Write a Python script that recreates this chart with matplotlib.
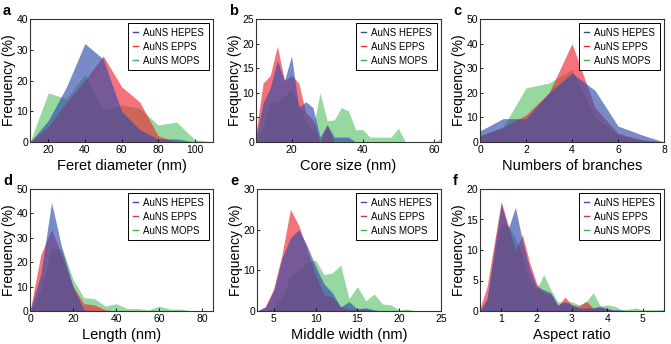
import matplotlib.pyplot as plt
from matplotlib.lines import Line2D

plt.rcParams["font.family"] = ["Liberation Sans", "DejaVu Sans"]

SERIES = ["AuNS HEPES", "AuNS EPPS", "AuNS MOPS"]

# a: Feret diameter
feret_x = [10, 20, 30, 40, 50, 60, 70, 80, 90, 100, 110]
feret_hepes = [0, 7, 18, 32, 27, 10, 4, 1, 1, 0, 0]
feret_epps = [0, 5, 13, 20, 28, 18, 13, 2, 0, 0, 0]
feret_mops = [0, 16, 14, 22, 10.5, 12, 11, 5.5, 6.5, 0.8, 0]

# b: core size
core_x = list(range(10, 64, 2))
core_hepes = [1, 8, 11, 16.5, 12.5, 17.5, 7, 8.2, 7, 1, 3.5, 1, 1, 1, 0,
              0, 0, 0, 0, 0, 0, 0, 0, 0, 0, 0, 0]
core_epps = [2, 12, 13.5, 19.5, 12.5, 13.5, 12, 6, 4.5, 0, 3.5, 0, 0, 0, 0,
             0, 0, 0, 0, 0, 0, 0, 0, 0, 0, 0, 0]
core_mops = [0, 3, 8, 8, 9.5, 10.5, 8, 4, 2.5, 10, 4.3, 4.5, 7, 6.3, 2.5,
             2.5, 1, 1, 1, 1, 2.8, 0, 0, 0, 0, 0, 0.7]

# c: numbers of branches
branch_x = [0, 1, 2, 3, 4, 5, 6, 7, 8]
branch_hepes = [4.5, 9.5, 9.5, 20, 28, 21, 6.5, 3, 0]
branch_epps = [2.5, 6, 11, 20, 40, 14, 3.5, 1, 0]
branch_mops = [2.5, 6, 22, 24, 29.5, 10, 3, 0.5, 0]

# d: length
length_x = list(range(0, 90, 5))
length_hepes = [0, 15, 44.5, 25, 10, 0.5, 0, 0, 0, 0, 0, 0, 0, 0, 0, 0, 0, 0]
length_epps = [0, 23, 33.5, 22, 10, 3, 2.5, 0.5, 0, 0, 0, 0, 0, 0, 0, 0, 0, 0]
length_mops = [0, 8, 25.5, 25.5, 13, 5.5, 5, 2, 3, 1, 1, 0.5, 2, 0.8, 0.8, 0, 0, 0]

# e: middle width
width_x = list(range(3, 26))
width_hepes = [0, 1, 5, 13, 18, 20, 16, 11, 6.7, 4.5, 1, 2.3, 0.5, 0.8, 0.3, 0,
               0, 0, 0, 0, 0, 0, 0]
width_epps = [0, 1, 5.5, 14, 25, 21, 15, 9, 4, 3.5, 1, 0.5, 0.5, 0.5, 0, 0,
              0, 0, 0, 0, 0, 0, 0]
width_mops = [0, 0, 1, 3.5, 8.5, 10, 12, 12.5, 9, 9.3, 11.3, 3, 6, 2.5, 4.2, 1.7,
              1.5, 0.3, 0.5, 0, 0, 0, 0]

# f: aspect ratio
aspect_x = [round(0.4 + 0.2 * i, 1) for i in range(27)]
aspect_hepes = [0, 2, 10, 17.5, 13.5, 17, 11.5, 7, 4, 3.5, 3, 1, 1.5, 1, 0.5,
                0.5, 0.5, 0.8, 0.3, 0.2, 0.2, 0, 0, 0, 0, 0, 0]
aspect_epps = [0.5, 4, 11, 18, 14, 10, 12.5, 8, 4.5, 3, 2.8, 0.8, 2.3, 1, 0.8,
               1.6, 0.5, 0.5, 0.5, 0, 0, 0, 0, 0, 0, 0, 0]
aspect_mops = [0, 2, 9, 14.5, 14, 12, 9, 5, 3.5, 6, 3.5, 1.5, 1.5, 1.5, 1,
               1.5, 3, 0.8, 1, 0.8, 0.2, 0.3, 0.5, 0.2, 0.2, 0.2, 0.3]

FILL = {"hepes": ("#324bab", 0.65), "epps": ("#eb2832", 0.65), "mops": ("#50be5f", 0.6)}
LINE = {"hepes": "#2f4fa8", "epps": "#e8323c", "mops": "#40b050"}

panels = [
    ("a", feret_x, feret_hepes, feret_epps, feret_mops, "Feret diameter (nm)",
     (10, 110), [20, 40, 60, 80, 100], (0, 40), [0, 10, 20, 30, 40]),
    ("b", core_x, core_hepes, core_epps, core_mops, "Core size (nm)",
     (10, 62), [20, 40, 60], (0, 25), [0, 5, 10, 15, 20, 25]),
    ("c", branch_x, branch_hepes, branch_epps, branch_mops, "Numbers of branches",
     (0, 8), [0, 2, 4, 6, 8], (0, 50), [0, 10, 20, 30, 40, 50]),
    ("d", length_x, length_hepes, length_epps, length_mops, "Length (nm)",
     (0, 85), [0, 20, 40, 60, 80], (0, 50), [0, 10, 20, 30, 40, 50]),
    ("e", width_x, width_hepes, width_epps, width_mops, "Middle width (nm)",
     (3, 25), [5, 10, 15, 20, 25], (0, 30), [0, 10, 20, 30]),
    ("f", aspect_x, aspect_hepes, aspect_epps, aspect_mops, "Aspect ratio",
     (0.4, 5.6), [1, 2, 3, 4, 5], (0, 20), [0, 5, 10, 15, 20]),
]

W, H = 671, 344
rects = [
    (30, 19, 183, 123), (256, 19, 185, 123), (480, 19, 184, 123),
    (30, 189, 183, 122), (257, 189, 184, 122), (480, 189, 184, 122),
]

fig = plt.figure(figsize=(W / 100, H / 100), dpi=100)

for (label, x, hep, epp, mop, xlabel, xlim, xticks, ylim, yticks), (px, py, pw, ph) in zip(panels, rects):
    ax = fig.add_axes([px / W, 1 - (py + ph) / H, pw / W, ph / H])
    ax.fill_between(x, 0, mop, color=FILL["mops"][0], alpha=FILL["mops"][1], lw=0)
    ax.fill_between(x, 0, epp, color=FILL["epps"][0], alpha=FILL["epps"][1], lw=0)
    ax.fill_between(x, 0, hep, color=FILL["hepes"][0], alpha=FILL["hepes"][1], lw=0)
    ax.set_xlim(*xlim)
    ax.set_ylim(*ylim)
    ax.set_xticks(xticks)
    ax.set_yticks(yticks)
    ax.tick_params(direction="in", length=2, width=0.6, labelsize=7.5, pad=2)
    ax.tick_params(axis="y", pad=1.5)
    for sp in ax.spines.values():
        sp.set_linewidth(0.8)
        sp.set_color("#333333")
    ax.set_xlabel(xlabel, fontsize=10.5, labelpad=3)
    ax.set_ylabel("Frequency (%)", fontsize=10, labelpad=0)
    handles = [Line2D([], [], color=LINE[k], lw=1) for k in ("hepes", "epps", "mops")]
    leg = ax.legend(handles, SERIES, loc="upper right", fontsize=7, handlelength=0.5,
                    handletextpad=0.6, borderpad=0.45, labelspacing=0.4,
                    borderaxespad=0.45, fancybox=False, framealpha=1)
    leg.get_frame().set_edgecolor("black")
    leg.get_frame().set_linewidth(0.7)
    fig.text((px - 27) / W, 1 - (py - 8) / H, label, fontsize=10.5, fontweight="bold",
             va="center", ha="left")

fig.savefig("out.png", dpi=100)
